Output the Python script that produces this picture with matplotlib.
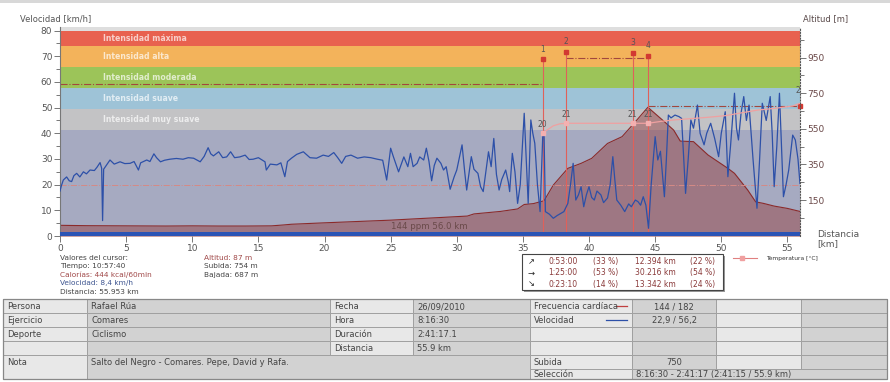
import numpy as np
import matplotlib.pyplot as plt
from matplotlib.patches import Rectangle

# velocidad [km/h] frente a distancia [km]
dist_v = [0.0, 0.1, 0.25, 0.5, 0.7, 0.88, 1.05, 1.26, 1.5, 1.77, 2.0, 2.27, 2.6, 2.8, 3.03, 3.15,
          3.22, 3.3, 3.5, 3.78, 4.1, 4.54, 4.9, 5.3, 5.6, 5.93, 6.1, 6.56, 6.8, 7.1, 7.3, 7.6,
          7.9, 8.3, 8.8, 9.3, 9.7, 10.1, 10.6, 10.9, 11.2, 11.4, 11.6, 12.0, 12.3, 12.6, 12.9,
          13.2, 13.6, 14.0, 14.3, 14.6, 15.0, 15.5, 15.6, 15.9, 16.4, 16.7, 17.0, 17.2, 17.5,
          17.9, 18.4, 18.9, 19.4, 19.9, 20.3, 20.7, 21.0, 21.3, 21.6, 22.0, 22.5, 23.0, 23.5,
          24.0, 24.4, 24.7, 25.0, 25.2, 25.6, 26.0, 26.3, 26.5, 26.7, 27.0, 27.2, 27.5, 27.7,
          27.9, 28.1, 28.3, 28.5, 28.8, 29.0, 29.2, 29.5, 29.8, 30.0, 30.4, 30.6, 30.75, 31.1,
          31.3, 31.6, 31.8, 32.0, 32.2, 32.4, 32.6, 32.8, 33.0, 33.2, 33.4, 33.7, 33.9, 34.0,
          34.2, 34.4, 34.6, 34.8, 35.1, 35.25, 35.4, 35.6, 35.75, 35.9, 36.1, 36.3, 36.5, 36.6,
          36.7, 37.0, 37.3, 37.6, 38.1, 38.4, 38.6, 38.8, 39.0, 39.2, 39.4, 39.6, 39.8, 40.0,
          40.2, 40.4, 40.6, 40.9, 41.1, 41.4, 41.6, 41.8, 41.95, 42.1, 42.4, 42.7, 43.0, 43.2,
          43.5, 43.7, 43.9, 44.1, 44.3, 44.5, 44.7, 45.0, 45.2, 45.4, 45.7, 45.85, 46.0, 46.2,
          46.5, 46.8, 47.0, 47.3, 47.5, 47.7, 47.9, 48.2, 48.4, 48.7, 48.9, 49.2, 49.5, 49.8,
          50.0, 50.3, 50.5, 50.7, 51.0, 51.15, 51.3, 51.5, 51.7, 51.9, 52.1, 52.4, 52.7, 52.9,
          53.1, 53.4, 53.7, 53.85, 54.0, 54.2, 54.4, 54.55, 54.7, 54.9, 55.1, 55.4, 55.6, 55.8,
          55.95]
speed = [17.5, 19.5, 21.8, 23.0, 21.5, 21.2, 23.5, 24.4, 23.0, 25.0, 24.2, 25.7, 25.5, 26.8, 28.6, 26.4,
         6.0, 26.0, 27.5, 29.6, 28.0, 28.9, 28.2, 28.3, 29.0, 25.7, 28.5, 29.6, 29.0, 32.0, 30.5, 28.9,
         29.5, 29.9, 30.2, 29.9, 30.5, 30.3, 28.9, 31.0, 34.4, 32.0, 31.2, 32.8, 30.5, 30.8, 32.8,
         30.5, 30.8, 31.5, 29.8, 29.9, 30.5, 28.9, 25.7, 28.0, 27.7, 28.5, 23.1, 29.0, 30.3,
         31.8, 32.8, 30.5, 30.3, 31.5, 31.0, 32.5, 30.5, 28.3, 31.0, 31.5, 30.3, 30.8, 30.5,
         29.9, 29.5, 21.8, 34.2, 31.0, 25.0, 30.8, 27.0, 32.2, 27.0, 28.3, 30.8, 29.6, 34.2,
         29.0, 21.5, 27.5, 30.3, 28.3, 25.7, 27.0, 18.2, 23.0, 25.7, 35.5, 25.0, 17.9, 30.9,
         26.0, 24.4, 19.2, 17.3, 25.0, 32.8, 27.0, 38.0, 24.0, 17.9, 22.0, 25.7, 21.0, 17.3,
         32.2, 25.0, 12.7, 20.0, 47.8, 30.0, 12.7, 45.2, 40.0, 36.1, 20.0, 9.5, 38.7, 40.0,
         9.5, 8.5, 6.9, 8.0, 9.5, 12.7, 20.0, 28.3, 14.0, 16.0, 19.2, 11.4, 16.0, 19.2,
         15.0, 14.0, 17.5, 16.0, 13.0, 14.8, 20.0, 30.9, 22.0, 14.0, 12.0, 9.5, 12.5, 11.4,
         14.0, 13.4, 12.0, 15.3, 12.0, 3.0, 20.0, 38.7, 29.6, 33.0, 15.3, 30.0, 47.1, 46.0,
         47.1, 46.5, 45.8, 16.6, 30.0, 45.2, 42.0, 51.0, 40.0, 35.5, 40.0, 43.9, 38.0, 30.9,
         40.0, 48.4, 23.1, 35.0, 55.6, 42.0, 37.4, 48.0, 54.3, 45.0, 51.0, 30.0, 10.8, 30.0,
         51.7, 45.0, 54.3, 40.0, 19.2, 35.0, 55.6, 35.0, 15.3, 20.0, 25.7, 39.3, 37.4, 30.0,
         20.5]

# altitud [m]
dist_alt = [0, 2, 5, 8, 10, 12, 14, 16, 16.9, 17.5, 20, 22, 25, 27, 28.8, 30.8, 31.3, 33.3,
            34.6, 35.1, 35.8, 36.3, 36.6, 37.3, 38.4, 39.4, 40.2, 41.4, 42.5, 43.4, 44.45,
            45.7, 46.4, 46.9, 47.9, 49.0, 50.5, 51.0, 52.0, 52.6, 53.2, 54.0, 55.0, 55.95]
altitude = [8, 6, 5, 4, 5, 4, 4, 5, 10, 14, 22, 28, 37, 45, 52, 60, 72, 86,
            100, 125, 130, 140, 146, 234, 328, 356, 384, 468, 506, 581, 671,
            590, 543, 481, 478, 403, 328, 300, 206, 140, 131, 116, 103, 86]

# temperatura [°C]
dist_temp = [36.5, 36.8, 37.3, 37.8, 38.25, 43.3, 44.45, 45.5, 46.4, 49.0, 50.3, 51.6, 52.8,
             54.1, 55.4, 55.95]
temperature = [20.0, 20.3, 20.75, 20.95, 21.0, 21.0, 21.0, 21.2, 21.33, 21.6, 21.76, 22.06,
               22.33, 22.5, 22.73, 23.0]

zones = ['Intensidad muy suave', 'Intensidad suave', 'Intensidad moderada',
         'Intensidad alta', 'Intensidad máxima']
zone_edges = [41.3, 49.3, 57.5, 65.8, 74.0, 79.7]
zone_colors = ['#c3c3c5', '#9ec3d7', '#9cc459', '#f3b35b', '#e8614f']

laps_km = [36.5, 38.25, 43.3, 44.45]
laps_v = [68.8, 71.7, 71.4, 70.1]
laps_temp = [20.0, 21.0, 21.0, 21.0]
laps_name = ['1', '2', '3', '4']

hr_segments = [(0, 36.5, 59.2), (38.25, 44.45, 69.2), (44.45, 55.95, 50.6)]
avg_line = 19.9

W, H = 890, 382
fig = plt.figure(figsize=(W / 100, H / 100), dpi=100)
fig.patch.set_facecolor('white')

ax = fig.add_axes([60 / W, 1 - 236 / H, 740 / W, 209 / H])
ax.set_facecolor('#a6aac1')
ax.set_xlim(0, 55.953)
ax.set_ylim(0, 81.4)

ax2 = ax.twinx()
ax2.set_ylim(-52, 1122)
ax3 = ax.twinx()
ax3.set_ylim(9.74, 30.62)
ax3.axis('off')

ax.axhspan(zone_edges[-1], 81.4, color='#dedede', zorder=0.5, lw=0)
for lo, hi, c, name in zip(zone_edges[:-1], zone_edges[1:], zone_colors, zones):
    ax.axhspan(lo, hi, color=c, zorder=0.5, lw=0)
    ax.text(3.26, (lo + hi) / 2, name, color='white', alpha=0.7, fontsize=5.6,
            fontweight='bold', va='center', ha='left', zorder=0.6)

# altitud dibujada en escala de ax2
ax.fill_between(dist_alt, altitude, -60, color='#963f3f', alpha=0.47, lw=0,
                transform=ax2.transData, zorder=1)
ax.plot(dist_alt, altitude, color='#8b2a2a', lw=0.8, transform=ax2.transData, zorder=1.2)

ax.axhline(avg_line, color='#d58a86', lw=0.7, ls='-.', zorder=1.5)
for x0, x1, y in hr_segments:
    ax.plot([x0, x1], [y, y], color='#a2473d', lw=0.8, ls='-.', zorder=1.6)
ax.plot([55.95], [hr_segments[-1][2]], 's', color='#d23a32', ms=3, clip_on=False, zorder=4)

for x, y, n in zip(laps_km, laps_v, laps_name):
    ax.plot([x, x], [0, y], color='#e0605a', lw=0.8, zorder=1.7)
    ax.plot([x], [y], 's', color='#d23a32', ms=3, zorder=4)
    ax.annotate(n, (x, y), xytext=(0, 4), textcoords='offset points', ha='center',
                va='bottom', fontsize=5.5, color='#555555')

ax.plot(dist_v, speed, color='#2d50a8', lw=0.9, zorder=3)
ax.axhspan(0, 1.7, color='#2b54b5', zorder=3.5, lw=0)

ax.text(27.9, 3.6, '144 ppm 56.0 km', fontsize=6.2, color='#6a4a4a', ha='center',
        va='center', zorder=3.6)

ax3.plot(dist_temp, temperature, color='#f0a0a0', lw=0.9)
ax3.plot(laps_km, laps_temp, 's', color='#f4b0b0', ms=3)
for x, t in zip(laps_km, laps_temp):
    ax3.annotate('%d' % round(t), (x, t), xytext=(0, 3), textcoords='offset points',
                 ha='center', va='bottom', fontsize=5.5, color='#555555')
ax3.text(55.8, 24.3, '2', fontsize=5.5, color='#555555', ha='center', va='center')

# ejes
ax.set_xticks(np.arange(0, 56, 5))
ax.set_yticks(np.arange(0, 81, 10))
ax.set_yticks(np.arange(5, 80, 10), minor=True)
ax.tick_params(axis='both', which='major', direction='out', length=4, width=0.7,
               color='#777777', labelsize=6.5, labelcolor='#555555', pad=1.5)
ax.tick_params(axis='y', which='minor', direction='out', length=3, width=0.7, color='#777777')
ax2.set_yticks([150, 350, 550, 750, 950])
ax2.set_yticks([50, 250, 450, 650, 850, 1050], minor=True)
ax2.tick_params(axis='y', which='major', direction='out', length=4, width=0.7,
                color='#777777', labelsize=6.5, labelcolor='#6a4848', pad=1.5)
ax2.tick_params(axis='y', which='minor', direction='out', length=3, width=0.7, color='#777777')
for s in ['top', 'right']:
    ax.spines[s].set_visible(False)
ax.spines['left'].set_color('#777777')
ax.spines['bottom'].set_visible(False)
for s in ['left', 'top', 'bottom']:
    ax2.spines[s].set_visible(False)
ax2.spines['right'].set_linestyle(':')
ax2.spines['right'].set_color('#555555')
ax2.spines['right'].set_linewidth(0.8)

# capa de anotaciones en pixeles
ov = fig.add_axes([0, 0, 1, 1], zorder=5)
ov.set_xlim(0, W)
ov.set_ylim(H, 0)
ov.axis('off')
ov.add_patch(Rectangle((0, 0), W, 3, color='#d8d8d8', lw=0))

ov.text(20, 19, 'Velocidad [km/h]', fontsize=6, color='#555555', va='center')
ov.text(803, 19, 'Altitud [m]', fontsize=6, color='#5a4a4a', va='center')
ov.text(817, 239, 'Distancia\n[km]', fontsize=6.5, color='#555555', va='center',
        linespacing=1.1)

cursor_left = ['Valores del cursor:', 'Tiempo: 10:57:40', 'Calorías: 444 kcal/60min',
               'Velocidad: 8,4 km/h', 'Distancia: 55.953 km']
cursor_left_c = ['#444444', '#444444', '#a04848', '#3e5590', '#444444']
cursor_right = ['Altitud: 87 m', 'Subida: 754 m', 'Bajada: 687 m']
cursor_right_c = ['#a04848', '#444444', '#444444']
for i, (t, c) in enumerate(zip(cursor_left, cursor_left_c)):
    ov.text(60, 257.5 + i * 8.6, t, fontsize=5.3, color=c, va='center')
for i, (t, c) in enumerate(zip(cursor_right, cursor_right_c)):
    ov.text(204, 257.5 + i * 8.6, t, fontsize=5.3, color=c, va='center')

# resumen subida / llano / bajada
arrows = ['↗', '→', '↘']
sum_time = ['0:53:00', '1:25:00', '0:23:10']
sum_tpct = ['(33 %)', '(53 %)', '(14 %)']
sum_dist = ['12.394 km', '30.216 km', '13.342 km']
sum_dpct = ['(22 %)', '(54 %)', '(24 %)']
ov.add_patch(Rectangle((523.5, 255.5), 201, 36, color='#999999', lw=0))
ov.add_patch(Rectangle((521.7, 254), 201, 36, facecolor='white', edgecolor='#444444', lw=0.8))
for i in range(3):
    y = 261.7 + i * 11.2
    ov.text(531, y, arrows[i], fontsize=6, color='#222222', ha='center', va='center')
    ov.text(563, y, sum_time[i], fontsize=5.5, color='#8a3a3a', ha='center', va='center')
    ov.text(605.5, y, sum_tpct[i], fontsize=5.5, color='#8a3a3a', ha='center', va='center')
    ov.text(655.5, y, sum_dist[i], fontsize=5.5, color='#8a3a3a', ha='center', va='center')
    ov.text(703, y, sum_dpct[i], fontsize=5.5, color='#8a3a3a', ha='center', va='center')

ov.plot([733, 757], [258.3, 258.3], color='#e08080', lw=0.8)
ov.plot([742], [258.3], 's', color='#f0a0a0', ms=2.5)
ov.text(766, 258.3, 'Temperatura [°C]', fontsize=4.3, color='#333333', va='center')

# tabla
col_x = [3, 87, 330, 413, 530, 632, 716, 801, 887]
row_y = [299, 313, 327, 341, 355, 369, 379]
light, dark = '#e8e8e8', '#d2d2d2'
row_labels = ['Persona', 'Ejercicio', 'Deporte', '']
row_values = ['Rafael Rúa', 'Comares', 'Ciclismo', '']
info_labels = ['Fecha', 'Hora', 'Duración', 'Distancia']
info_values = ['26/09/2010', '8:16:30', '2:41:17.1', '55.9 km']
stat_labels = ['Frecuencia cardíaca', 'Velocidad', '', '']
stat_values = ['144 / 182', '22,9 / 56,2', '', '']

cells = []
for r in range(4):
    cells += [(r, r + 1, 0, 1, light, row_labels[r], 'l'),
              (r, r + 1, 1, 2, dark, row_values[r], 'l'),
              (r, r + 1, 2, 3, light, info_labels[r], 'l'),
              (r, r + 1, 3, 4, dark, info_values[r], 'l'),
              (r, r + 1, 4, 5, light, stat_labels[r], 'l'),
              (r, r + 1, 5, 6, dark, stat_values[r], 'c'),
              (r, r + 1, 6, 7, light, '', 'l'),
              (r, r + 1, 7, 8, dark, '', 'l')]
cells += [(4, 6, 0, 1, light, 'Nota', 'l'),
          (4, 6, 1, 4, dark, 'Salto del Negro - Comares. Pepe, David y Rafa.', 'l'),
          (4, 5, 4, 5, light, 'Subida', 'l'),
          (4, 5, 5, 6, dark, '750', 'c'),
          (4, 5, 6, 7, light, '', 'l'),
          (4, 5, 7, 8, dark, '', 'l'),
          (5, 6, 4, 5, light, 'Selección', 'l'),
          (5, 6, 5, 8, dark, '8:16:30 - 2:41:17 (2:41:15 / 55.9 km)', 'l')]
for r0, r1, c0, c1, fc, txt, al in cells:
    x0, x1 = col_x[c0], col_x[c1]
    y0, y1 = row_y[r0], row_y[r1]
    ov.add_patch(Rectangle((x0, y0), x1 - x0, y1 - y0, facecolor=fc, edgecolor='#a0a0a0', lw=0.7))
    ty = (row_y[r0] + row_y[r0 + 1]) / 2 + 0.5
    if al == 'c':
        ov.text((x0 + x1) / 2, ty, txt, fontsize=6, color='#444444', ha='center', va='center')
    else:
        ov.text(x0 + 4, ty, txt, fontsize=6, color='#444444', ha='left', va='center')
ov.add_patch(Rectangle((col_x[0], row_y[0]), col_x[-1] - col_x[0], row_y[-1] - row_y[0],
                       fill=False, edgecolor='#888888', lw=0.9))
ov.plot([616, 627], [306, 306], color='#c04040', lw=0.9)
ov.plot([606, 627], [320, 320], color='#2d50a8', lw=0.9)

fig.savefig('out.png', dpi=100)
